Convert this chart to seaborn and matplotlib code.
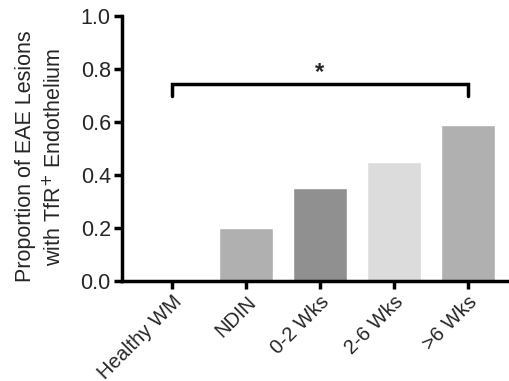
import seaborn as sns
import matplotlib.pyplot as plt
import pandas as pd

categories = ['Healthy WM', 'NDIN', '0-2 Wks', '2-6 Wks', '>6 Wks']
values = [0.0, 0.20, 0.35, 0.45, 0.59]
colors = ['#b0b0b0', '#b0b0b0', '#909090', '#dcdcdc', '#b0b0b0']

sns.set_theme(style='ticks')
plt.rcParams['font.family'] = ['Liberation Sans', 'DejaVu Sans']

df = pd.DataFrame({'group': categories, 'value': values})

fig = plt.figure(figsize=(5.1, 3.81), dpi=100)
ax = fig.add_axes([0.239, 0.262, 0.755, 0.696])
sns.barplot(data=df, x='group', y='value', hue='group', palette=colors,
            legend=False, width=0.73, ax=ax, saturation=1)

ax.set_ylim(0, 1.0)
ax.set_xlim(-0.68, 4.53)
ax.set_yticks([0, 0.2, 0.4, 0.6, 0.8, 1.0])
ax.set_yticklabels(['0.0', '0.2', '0.4', '0.6', '0.8', '1.0'], fontsize=15.5)
ax.set_xticks(range(len(categories)))
ax.set_xticklabels(categories, rotation=45, ha='right', rotation_mode='anchor', fontsize=14.5)
ax.set_xlabel('')
ax.set_ylabel('Proportion of EAE Lesions\nwith TfR$^{+}$ Endothelium', fontsize=15.5,
              linespacing=1.35)
ax.yaxis.set_label_coords(-0.145, 0.47)

for s in ['top', 'right']:
    ax.spines[s].set_visible(False)
for s in ['left', 'bottom']:
    ax.spines[s].set_linewidth(2.5)
    ax.spines[s].set_color('black')
ax.tick_params(axis='both', width=2.5, length=6, color='black', pad=2)

# significance bracket
ax.plot([0, 0, 4, 4], [0.70, 0.743, 0.743, 0.70], color='black', lw=2.5,
        solid_joinstyle='miter', clip_on=False)
ax.text(2, 0.745, '*', ha='center', va='bottom', fontsize=17, fontweight='bold')

fig.savefig('out.png', dpi=100)
